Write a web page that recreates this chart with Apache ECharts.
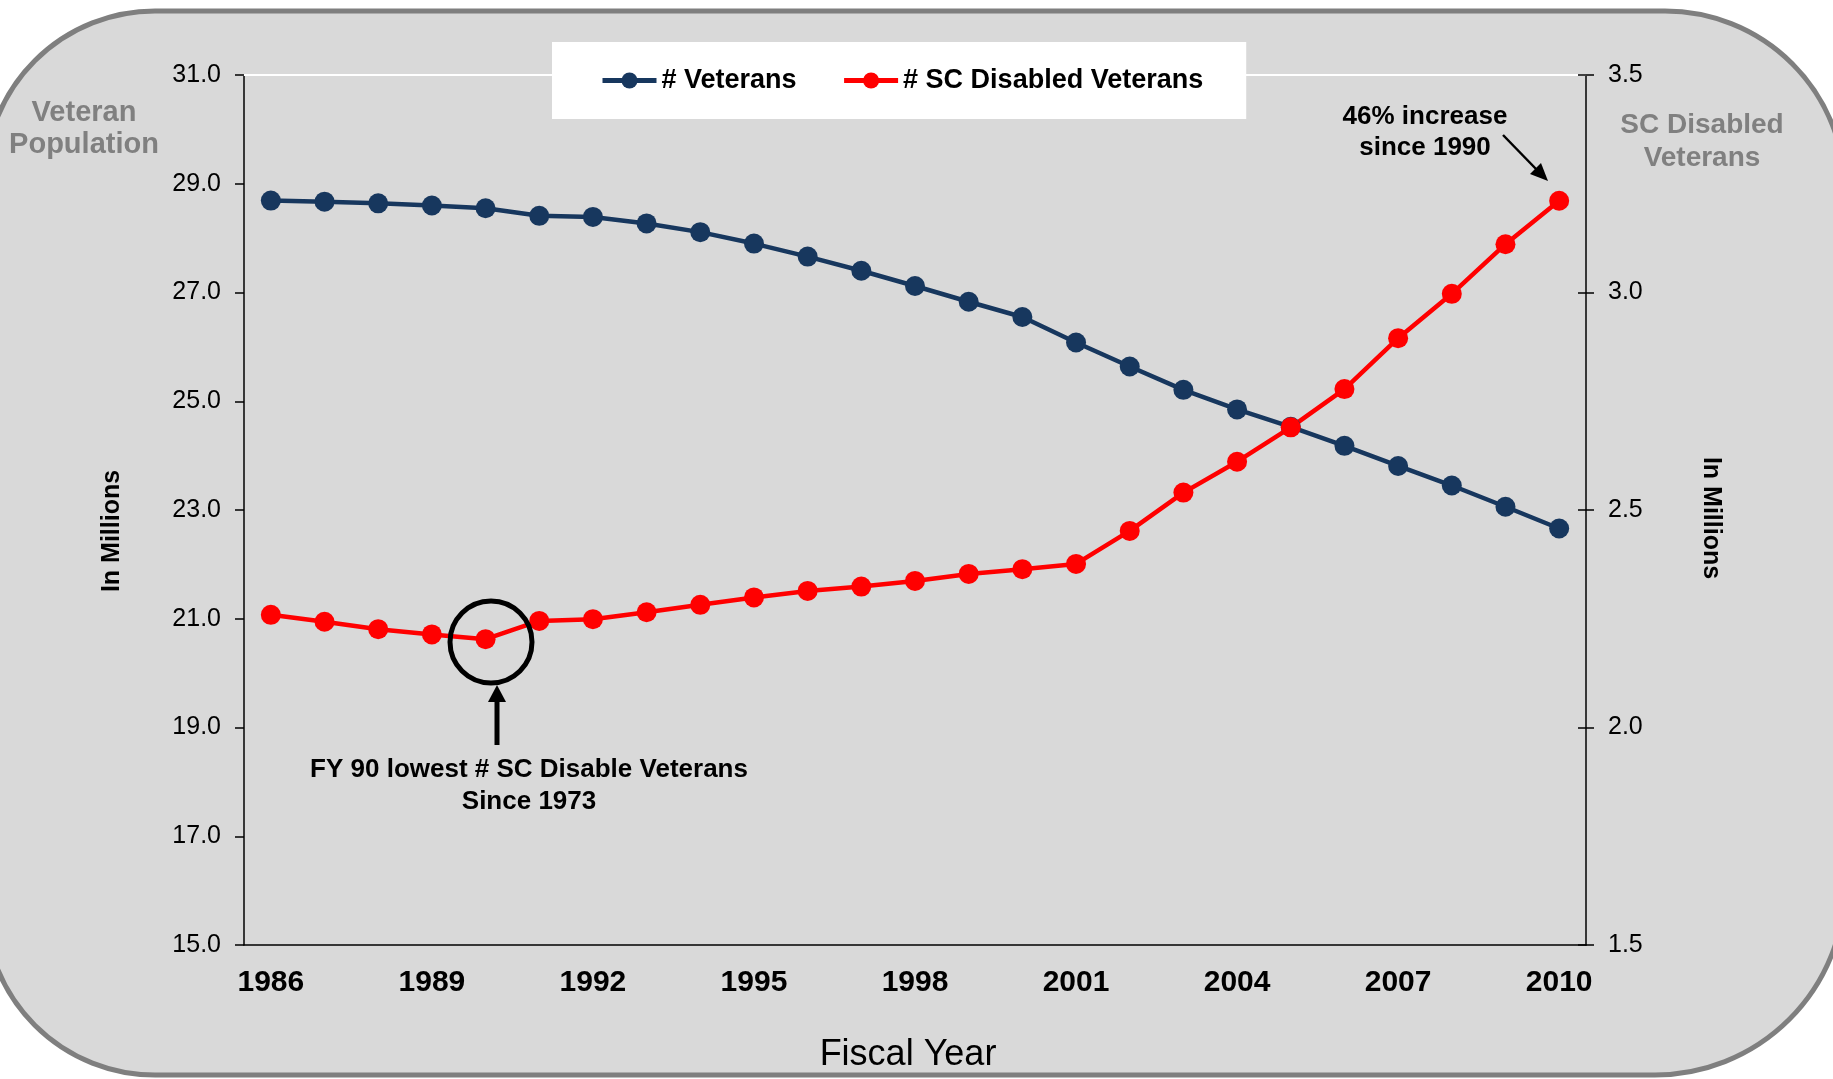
<!DOCTYPE html>
<html>
<head>
<meta charset="utf-8">
<script src="https://cdn.jsdelivr.net/npm/echarts@6/dist/echarts.min.js"></script>
<style>
html,body{margin:0;padding:0;background:#fff;}
#chart{width:1833px;height:1079px;}
</style>
</head>
<body>
<div id="chart"></div>
<script>
// ---- data ----
const years = ['1986','1987','1988','1989','1990','1991','1992','1993','1994','1995','1996','1997','1998','1999','2000','2001','2002','2003','2004','2005','2006','2007','2008','2009','2010'];
const veterans = [28.69,28.67,28.64,28.60,28.55,28.41,28.39,28.27,28.11,27.90,27.66,27.40,27.12,26.83,26.55,26.08,25.64,25.21,24.85,24.53,24.18,23.81,23.45,23.06,22.66];
const scDisabled = [2.259,2.243,2.226,2.214,2.203,2.245,2.249,2.265,2.282,2.299,2.314,2.324,2.337,2.353,2.364,2.376,2.452,2.540,2.611,2.690,2.778,2.895,2.997,3.111,3.211];
const seriesNames = ['# Veterans', '# SC Disabled Veterans'];
const leftTicks = {min: 15, max: 31, interval: 2};
const rightTicks = {min: 1.5, max: 3.5, interval: 0.5};

const FONT = '"Liberation Sans", Arial, sans-serif';
const chart = echarts.init(document.getElementById('chart'));

const option = {
  backgroundColor: '#ffffff',
  animation: false,
  textStyle: {fontFamily: FONT},
  grid: {left: 244, right: 247, top: 75, bottom: 134, containLabel: false},
  legend: {
    data: seriesNames,
    left: 552, top: 42,
    padding: [25, 43, 25, 48],
    backgroundColor: '#ffffff',
    itemWidth: 54, itemHeight: 20, itemGap: 45,
    lineStyle: {width: 5},
    textStyle: {fontFamily: FONT, fontSize: 27, fontWeight: 'bold', color: '#000'}
  },
  xAxis: [{
    type: 'category', data: years, boundaryGap: true,
    axisLine: {lineStyle: {color: '#000', width: 1.5}},
    axisTick: {show: false},
    axisLabel: {interval: 2, margin: 23, fontFamily: FONT, fontSize: 30, fontWeight: 'bold', color: '#000'},
    splitLine: {show: false}
  }, {
    type: 'category', data: years, position: 'top', boundaryGap: true,
    axisLine: {onZero: false, lineStyle: {color: '#ffffff', width: 2}},
    axisTick: {show: false}, axisLabel: {show: false}, splitLine: {show: false}
  }],
  yAxis: [{
    type: 'value', position: 'left', min: leftTicks.min, max: leftTicks.max, interval: leftTicks.interval,
    axisLine: {show: true, lineStyle: {color: '#000', width: 1.5}},
    axisTick: {show: true, length: 9, lineStyle: {color: '#000', width: 1.5}},
    axisLabel: {margin: 23, fontFamily: FONT, fontSize: 25, color: '#000', formatter: v => v.toFixed(1)},
    splitLine: {show: false}
  }, {
    type: 'value', position: 'right', min: rightTicks.min, max: rightTicks.max, interval: rightTicks.interval,
    axisLine: {show: true, lineStyle: {color: '#000', width: 1.5}},
    axisTick: {show: true, length: 8, lineStyle: {color: '#000', width: 1.5}},
    axisLabel: {margin: 22, fontFamily: FONT, fontSize: 25, color: '#000', formatter: v => v.toFixed(1)},
    splitLine: {show: false}
  }, {
    type: 'value', position: 'right', min: rightTicks.min, max: rightTicks.max, interval: rightTicks.interval,
    axisLine: {show: false},
    axisTick: {show: true, inside: true, length: 8, lineStyle: {color: '#000', width: 1.5}},
    axisLabel: {show: false},
    splitLine: {show: false}
  }],
  series: [{
    name: seriesNames[0], type: 'line', xAxisIndex: 0, yAxisIndex: 0, data: veterans,
    symbol: 'circle', symbolSize: 20,
    lineStyle: {color: '#17375E', width: 4.5},
    itemStyle: {color: '#17375E'}
  }, {
    name: seriesNames[1], type: 'line', xAxisIndex: 0, yAxisIndex: 1, data: scDisabled,
    symbol: 'circle', symbolSize: 20, z: 3,
    lineStyle: {color: '#FF0000', width: 4.5},
    itemStyle: {color: '#FF0000'}
  }],
  graphic: [
    {type: 'rect', z: -10, silent: true,
     shape: {x: -15, y: 11, width: 1860, height: 1064, r: [170, 180, 190, 170]},
     style: {fill: '#D9D9D9', stroke: '#7F7F7F', lineWidth: 5}},
    {type: 'text', x: 84, y: 129, z: 5,
     style: {text: 'Veteran\nPopulation', fill: '#808080', font: 'bold 29px ' + FONT, textAlign: 'center', textVerticalAlign: 'middle', lineHeight: 32}},
    {type: 'text', x: 1702, y: 142, z: 5,
     style: {text: 'SC Disabled\nVeterans', fill: '#808080', font: 'bold 28px ' + FONT, textAlign: 'center', textVerticalAlign: 'middle', lineHeight: 33}},
    {type: 'text', x: 112, y: 531, rotation: Math.PI / 2, z: 5,
     style: {text: 'In Millions', fill: '#000', font: 'bold 25px ' + FONT, textAlign: 'center', textVerticalAlign: 'middle'}},
    {type: 'text', x: 1711, y: 518, rotation: -Math.PI / 2, z: 5,
     style: {text: 'In Millions', fill: '#000', font: 'bold 25px ' + FONT, textAlign: 'center', textVerticalAlign: 'middle'}},
    {type: 'text', x: 908, y: 1055, z: 5,
     style: {text: 'Fiscal Year', fill: '#000', font: '36px ' + FONT, textAlign: 'center', textVerticalAlign: 'middle'}},
    {type: 'text', x: 1425, y: 132, z: 5,
     style: {text: '46% increase\nsince 1990', fill: '#000', font: 'bold 26px ' + FONT, textAlign: 'center', textVerticalAlign: 'middle', lineHeight: 31}},
    {type: 'line', z: 5, shape: {x1: 1503, y1: 135, x2: 1537, y2: 170}, style: {stroke: '#000', lineWidth: 2.5}},
    {type: 'polygon', z: 5, shape: {points: [[1548, 181], [1530, 174], [1541, 163]]}, style: {fill: '#000'}},
    {type: 'ellipse', z: 5, shape: {cx: 491, cy: 642, rx: 41, ry: 41}, style: {fill: null, stroke: '#000', lineWidth: 5}},
    {type: 'line', z: 5, shape: {x1: 497, y1: 745, x2: 497, y2: 698}, style: {stroke: '#000', lineWidth: 5}},
    {type: 'polygon', z: 5, shape: {points: [[497, 685], [488, 702], [506, 702]]}, style: {fill: '#000'}},
    {type: 'text', x: 529, y: 786, z: 5,
     style: {text: 'FY 90 lowest # SC Disable Veterans\nSince 1973', fill: '#000', font: 'bold 26px ' + FONT, textAlign: 'center', textVerticalAlign: 'middle', lineHeight: 32}}
  ]
};
chart.setOption(option);
</script>
</body>
</html>
